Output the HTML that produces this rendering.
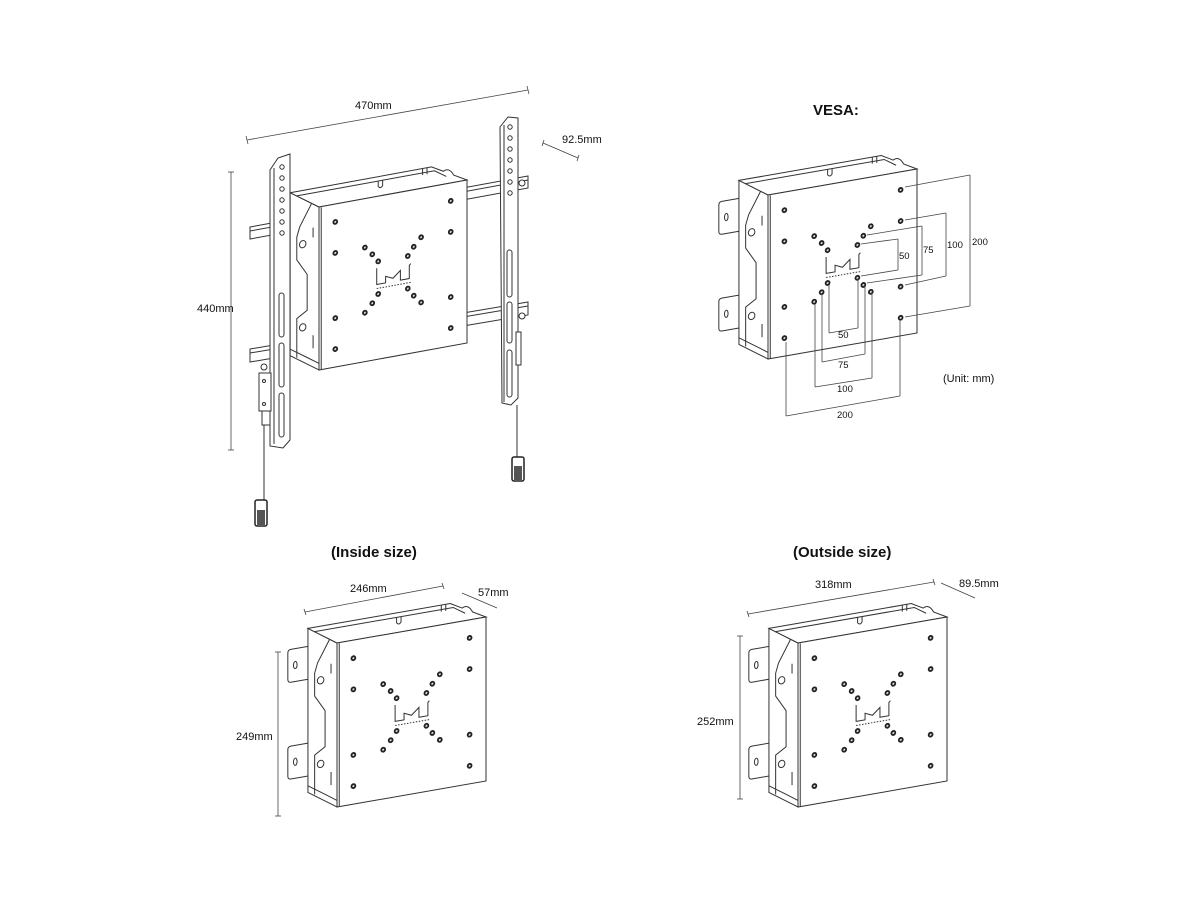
<!DOCTYPE html>
<html><head><meta charset="utf-8"><style>
html,body{margin:0;padding:0;background:#fff;}
svg{display:block;}
text{font-family:"Liberation Sans",Arial,sans-serif;fill:#111;}
.l{fill:none;stroke:#333;stroke-width:1;vector-effect:non-scaling-stroke;}
.w{fill:#fff;stroke:#333;stroke-width:1;vector-effect:non-scaling-stroke;}
.d{fill:none;stroke:#444;stroke-width:0.8;}
.h{fill:#ddd;stroke:#222;stroke-width:1.8;vector-effect:non-scaling-stroke;}
</style></head><body>
<svg width="1200" height="900" viewBox="0 0 1200 900" xmlns="http://www.w3.org/2000/svg">
<defs>
<g id="box">
  <path class="w" d="M-18,-1 L-31,-1 Q-33,-1 -33,1 L-33,17 Q-33,19 -31,19 L-18,19"/>
  <ellipse class="l" cx="-28" cy="9" rx="1.2" ry="2.2"/>
  <path class="w" d="M-18,58 L-31,58 Q-33,58 -33,60 L-33,76 Q-33,78 -31,78 L-18,78"/>
  <ellipse class="l" cx="-28" cy="68" rx="1.2" ry="2.2"/>
  <path class="w" d="M0,0 L-19.5,-12 L-19.5,88 L0,100 Z"/>
  <path class="l" d="M-5,-3 L-13,10 L-15,16 L-15,30 L-8,40 L-8,62 L-15,66 L-15,90"/>
  <path class="l" d="M-19.5,84 L-8,91 L0,96"/>
  <path class="l" d="M-4,12 L-4,18 M-4,78 L-4,86"/>
  <circle class="w" cx="-11" cy="21" r="2.2"/>
  <circle class="w" cx="-11" cy="72" r="2.2"/>
  <path class="w" d="M0,0 L-19.5,-12 L76,-12 L84,-8 Q88,-10 91,-4.5 L100,0 Z"/>
  <path class="l" d="M-15,-9.3 L78,-9.3 L86,-4.5"/>
  <path class="l" d="M40,-9.3 L40,-6 Q41.5,-4 43,-6 L43,-9.3"/>
  <path class="l" d="M70,-12 L70,-8 M73,-12 L73,-8"/>
  <rect class="w" x="0" y="0" width="100" height="100"/>
  <path class="l" d="M1.5,0.5 L1.5,100"/>
  <g>
  <ellipse class="h" cx="11" cy="11" rx="1.3" ry="1.2"/>
  <ellipse class="h" cx="11" cy="30" rx="1.3" ry="1.2"/>
  <ellipse class="h" cx="11" cy="70" rx="1.3" ry="1.2"/>
  <ellipse class="h" cx="11" cy="89" rx="1.3" ry="1.2"/>
  <ellipse class="h" cx="89" cy="11" rx="1.3" ry="1.2"/>
  <ellipse class="h" cx="89" cy="30" rx="1.3" ry="1.2"/>
  <ellipse class="h" cx="89" cy="70" rx="1.3" ry="1.2"/>
  <ellipse class="h" cx="89" cy="89" rx="1.3" ry="1.2"/>
  <ellipse class="h" cx="31" cy="30" rx="1.3" ry="1.2"/>
  <ellipse class="h" cx="36" cy="35" rx="1.3" ry="1.2"/>
  <ellipse class="h" cx="40" cy="40" rx="1.3" ry="1.2"/>
  <ellipse class="h" cx="69" cy="30" rx="1.3" ry="1.2"/>
  <ellipse class="h" cx="64" cy="35" rx="1.3" ry="1.2"/>
  <ellipse class="h" cx="60" cy="40" rx="1.3" ry="1.2"/>
  <ellipse class="h" cx="40" cy="60" rx="1.3" ry="1.2"/>
  <ellipse class="h" cx="36" cy="65" rx="1.3" ry="1.2"/>
  <ellipse class="h" cx="31" cy="70" rx="1.3" ry="1.2"/>
  <ellipse class="h" cx="60" cy="60" rx="1.3" ry="1.2"/>
  <ellipse class="h" cx="64" cy="65" rx="1.3" ry="1.2"/>
  <ellipse class="h" cx="69" cy="70" rx="1.3" ry="1.2"/>
  </g>
  <path class="l" d="M39,44 L39,54 L45,54 L45,50 L50,52 L55,48 L55,54 L61,54 L61,46 L62,45"/>
  <path class="l" d="M39,56.5 L62,56.5" stroke-dasharray="1.5 1.5"/>
</g>
</defs>

<g>
<polygon class="w" points="250,227 528,176 528,188 250,239"/>
<line class="l" x1="250" y1="231" x2="528" y2="180"/>
<polygon class="w" points="250,349 528,302 528,315 250,362"/>
<line class="l" x1="250" y1="353" x2="528" y2="306"/>
<circle class="w" cx="522" cy="183" r="3"/>
<circle class="w" cx="522" cy="316" r="3"/>
<circle class="w" cx="264" cy="367" r="3"/>
</g>
<use href="#box" transform="matrix(1.48,-0.27,0,1.63,319,207)"/>
<g>
<polygon class="w" points="270,170 278,158 290,154 290,440 283,448 270,446"/>
<line class="l" x1="274" y1="168" x2="274" y2="444"/>
<g fill="#fff" stroke="#333" stroke-width="1">
<circle cx="282" cy="167" r="2.2"/><circle cx="282" cy="178" r="2.2"/><circle cx="282" cy="189" r="2.2"/>
<circle cx="282" cy="200" r="2.2"/><circle cx="282" cy="211" r="2.2"/><circle cx="282" cy="222" r="2.2"/><circle cx="282" cy="233" r="2.2"/>
</g>
<rect class="l" x="279" y="293" width="5" height="44" rx="2.5"/>
<rect class="l" x="279" y="343" width="5" height="44" rx="2.5"/>
<rect class="l" x="279" y="393" width="5" height="44" rx="2.5"/>
<rect class="w" x="259" y="373" width="12" height="38"/>
<circle class="w" cx="264" cy="381" r="1.5"/><circle class="w" cx="264" cy="404" r="1.5"/>
<rect class="w" x="262" y="411" width="8" height="14"/>
<line class="l" x1="264" y1="425" x2="264" y2="500"/>
<rect x="255" y="500" width="12" height="26" rx="2" fill="#fff" stroke="#222" stroke-width="1.5"/>
<rect x="257" y="510" width="8" height="15" fill="#555"/>
</g>
<g>
<polygon class="w" points="500,127 508,117 518,118 518,398 511,405 502,403"/>
<line class="l" x1="504" y1="125" x2="504" y2="402"/>
<g fill="#fff" stroke="#333" stroke-width="1">
<circle cx="510" cy="127" r="2.2"/><circle cx="510" cy="138" r="2.2"/><circle cx="510" cy="149" r="2.2"/>
<circle cx="510" cy="160" r="2.2"/><circle cx="510" cy="171" r="2.2"/><circle cx="510" cy="182" r="2.2"/><circle cx="510" cy="193" r="2.2"/>
</g>
<rect class="l" x="507" y="250" width="5" height="47" rx="2.5"/>
<rect class="l" x="507" y="302" width="5" height="41" rx="2.5"/>
<rect class="l" x="507" y="350" width="5" height="47" rx="2.5"/>
<rect class="w" x="516" y="332" width="5" height="33"/>
<line class="l" x1="517" y1="405" x2="517" y2="457"/>
<rect x="512" y="457" width="12" height="24" rx="2" fill="#fff" stroke="#222" stroke-width="1.5"/>
<rect x="514" y="466" width="8" height="14" fill="#555"/>
</g>
<line class="d" x1="247" y1="140" x2="528" y2="90"/>
<line class="d" x1="246" y1="136" x2="248" y2="144"/><line class="d" x1="527" y1="86" x2="529" y2="94"/>
<text x="355" y="109" font-size="11">470mm</text>
<line class="d" x1="543" y1="143" x2="578" y2="158"/>
<line class="d" x1="542" y1="146" x2="544" y2="140"/><line class="d" x1="577" y1="161" x2="579" y2="155"/>
<text x="562" y="143" font-size="11">92.5mm</text>
<line class="d" x1="231" y1="172" x2="231" y2="450"/>
<line class="d" x1="228" y1="172" x2="234" y2="172"/><line class="d" x1="228" y1="450" x2="234" y2="450"/>
<text x="197" y="312" font-size="11">440mm</text>

<text x="813" y="115" font-size="15" font-weight="bold">VESA:</text>
<use href="#box" transform="matrix(1.49,-0.26,0,1.64,768,195)"/>
<g class="d">
<line x1="905" y1="187" x2="970" y2="175"/><line x1="905" y1="317" x2="970" y2="306"/><line x1="970" y1="175" x2="970" y2="306"/>
<line x1="905" y1="220" x2="946" y2="213"/><line x1="905" y1="285" x2="946" y2="276"/><line x1="946" y1="213" x2="946" y2="276"/>
<line x1="867" y1="235" x2="922" y2="226"/><line x1="867" y1="283" x2="922" y2="275"/><line x1="922" y1="226" x2="922" y2="275"/>
<line x1="861" y1="244" x2="898" y2="239"/><line x1="861" y1="276" x2="898" y2="270"/><line x1="898" y1="239" x2="898" y2="270"/>
<line x1="829" y1="285" x2="829" y2="333"/><line x1="858" y1="279" x2="858" y2="328"/><line x1="829" y1="333" x2="858" y2="328"/>
<line x1="822" y1="294" x2="822" y2="362"/><line x1="865" y1="286" x2="865" y2="354"/><line x1="822" y1="362" x2="865" y2="354"/>
<line x1="815" y1="304" x2="815" y2="387"/><line x1="872" y1="293" x2="872" y2="378"/><line x1="815" y1="387" x2="872" y2="378"/>
<line x1="786" y1="342" x2="786" y2="416"/><line x1="900" y1="321" x2="900" y2="396"/><line x1="786" y1="416" x2="900" y2="396"/>
</g>
<g font-size="9.5">
<text x="899" y="259">50</text><text x="923" y="253">75</text><text x="947" y="248">100</text><text x="972" y="245">200</text>
<text x="838" y="338">50</text><text x="838" y="368">75</text><text x="837" y="392">100</text><text x="837" y="418">200</text>
</g>
<text x="943" y="382" font-size="11">(Unit: mm)</text>

<text x="331" y="557" font-size="15" font-weight="bold">(Inside size)</text>
<use href="#box" transform="matrix(1.49,-0.26,0,1.64,337,643)"/>
<line class="d" x1="305" y1="612" x2="443" y2="586"/>
<line class="d" x1="304" y1="609" x2="306" y2="615"/><line class="d" x1="442" y1="583" x2="444" y2="589"/>
<text x="350" y="592" font-size="11">246mm</text>
<line class="d" x1="462" y1="593" x2="497" y2="608"/>
<text x="478" y="596" font-size="11">57mm</text>
<line class="d" x1="278" y1="652" x2="278" y2="816"/>
<line class="d" x1="275" y1="652" x2="281" y2="652"/><line class="d" x1="275" y1="816" x2="281" y2="816"/>
<text x="236" y="740" font-size="11">249mm</text>

<text x="793" y="557" font-size="15" font-weight="bold">(Outside size)</text>
<use href="#box" transform="matrix(1.49,-0.26,0,1.64,798,643)"/>
<line class="d" x1="748" y1="614" x2="934" y2="582"/>
<line class="d" x1="747" y1="611" x2="749" y2="617"/><line class="d" x1="933" y1="579" x2="935" y2="585"/>
<text x="815" y="588" font-size="11">318mm</text>
<line class="d" x1="941" y1="583" x2="975" y2="598"/>
<text x="959" y="587" font-size="11">89.5mm</text>
<line class="d" x1="740" y1="636" x2="740" y2="799"/>
<line class="d" x1="737" y1="636" x2="743" y2="636"/><line class="d" x1="737" y1="799" x2="743" y2="799"/>
<text x="697" y="725" font-size="11">252mm</text>
</svg>
</body></html>
